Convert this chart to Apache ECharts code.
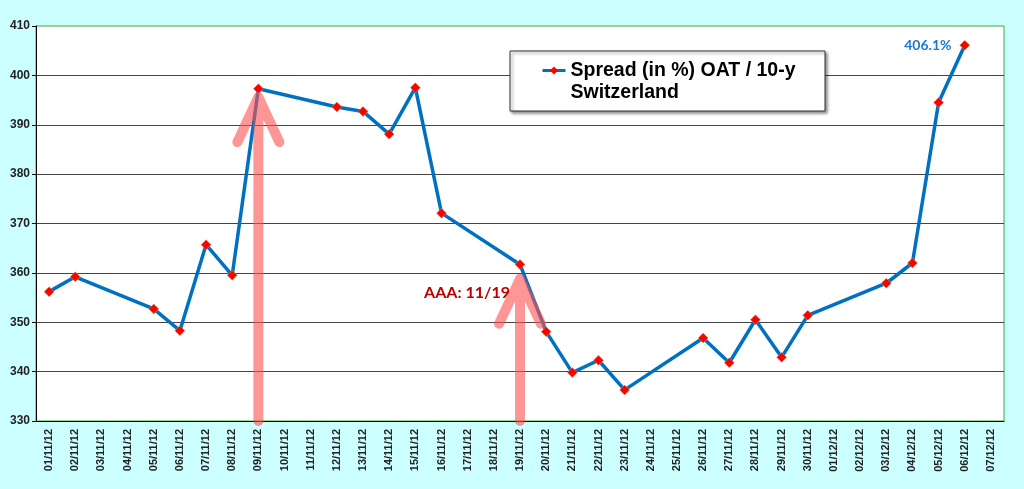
<!DOCTYPE html>
<html>
<head>
<meta charset="utf-8">
<script src="https://cdn.jsdelivr.net/npm/echarts@6/dist/echarts.min.js"></script>
<style>
  html, body { margin: 0; padding: 0; background: #ccffff; }
  #chart { width: 1024px; height: 489px; }
</style>
</head>
<body>
<div id="chart"></div>
<script>
// categories: every calendar day, weekends have no quote
var dates = ['01/11/12','02/11/12','03/11/12','04/11/12','05/11/12','06/11/12','07/11/12','08/11/12',
  '09/11/12','10/11/12','11/11/12','12/11/12','13/11/12','14/11/12','15/11/12','16/11/12','17/11/12',
  '18/11/12','19/11/12','20/11/12','21/11/12','22/11/12','23/11/12','24/11/12','25/11/12','26/11/12',
  '27/11/12','28/11/12','29/11/12','30/11/12','01/12/12','02/12/12','03/12/12','04/12/12','05/12/12',
  '06/12/12','07/12/12']
var spread = [356.2, 359.2, null, null, 352.7, 348.3, 365.7, 359.5,
  397.3, null, null, 393.6, 392.7, 388.1, 397.5, 372.1, null,
  null, 361.7, 348.1, 339.8, 342.3, 336.3, null, null, 346.8,
  341.8, 350.5, 342.9, 351.4, null, null, 357.9, 362.0, 394.5,
  406.1, null]
var seriesName = 'Spread (in %) OAT / 10-y Switzerland'
var legendLines = ['Spread (in %) OAT / 10-y', 'Switzerland']
var lastLabel = '406.1%'

// annotation arrows (date, value of the arrow tip)
var arrowDates = ['09/11/12', '19/11/12']
var arrowTips = [395.6, 358.8]
var noteText = 'AAA: 11/19'
var noteDate = '19/11/12'
var noteValue = 356

var chart = echarts.init(document.getElementById('chart'))

var lastIdx = 35
var data = spread.map(function(v, i){
  if(i == lastIdx){
    return {
      value: v,
      label: {
        show: true,
        position: 'left',
        distance: 8,
        formatter: lastLabel,
        color: '#1a7ad0',
        fontFamily: 'Lato',
        fontWeight: 'bold',
        fontSize: 14
      }
    }
  }
  return v
})

var option = {
  backgroundColor: '#ccffff',
  animation: false,
  grid: {
    left: 36, right: 20, top: 26, bottom: 68,
    show: true,
    backgroundColor: '#ffffff',
    borderColor: '#3aaa3a',
    borderWidth: 1
  },
  legend: {
    left: 541,
    top: 39,
    padding: 0,
    itemWidth: 23,
    itemHeight: 10,
    data: [seriesName],
    itemStyle: { color: '#ff0000', borderWidth: 0 },
    lineStyle: { color: '#0070c0', width: 3 },
    formatter: function(name){
      // empty first line keeps the icon level with the first text line
      return '{e|\u00a0}\n{t|' + legendLines[0] + '}\n{t|' + legendLines[1] + '}'
    },
    textStyle: {
      rich: {
        e: { fontSize: 19, lineHeight: 22 },
        t: {
          fontFamily: 'Liberation Sans',
          fontWeight: 'bold',
          fontSize: 19.5,
          color: '#000',
          lineHeight: 22
        }
      }
    }
  },
  xAxis: {
    type: 'category',
    data: dates,
    boundaryGap: true,
    axisLine: { lineStyle: { color: '#000', width: 1 } },
    axisTick: { length: 4, lineStyle: { color: '#000' } },
    axisLabel: {
      interval: 0,
      rotate: 90,
      margin: 8,
      fontFamily: 'Liberation Sans',
      fontWeight: 'bold',
      fontSize: 11,
      color: '#222'
    },
    splitLine: { show: false }
  },
  yAxis: {
    type: 'value',
    min: 330,
    max: 410,
    interval: 10,
    axisLine: { show: true, lineStyle: { color: '#000', width: 1 } },
    axisTick: { show: true, length: 4, lineStyle: { color: '#000' } },
    axisLabel: {
      margin: 6,
      fontFamily: 'Liberation Sans',
      fontWeight: 'bold',
      fontSize: 12,
      color: '#222'
    },
    splitLine: {
      show: true,
      showMinLine: false,
      showMaxLine: false,
      lineStyle: { color: '#444', width: 1 }
    }
  },
  series: [{
    name: seriesName,
    type: 'line',
    data: data,
    connectNulls: true,
    showAllSymbol: true,
    symbol: 'diamond',
    symbolSize: 10,
    lineStyle: { color: '#0070c0', width: 3.5 },
    itemStyle: { color: '#ff0000', borderColor: '#b8b050', borderWidth: 0.5 },
    z: 3
  }]
}
chart.setOption(option)

// legend frame
var graphics = [{
  type: 'rect',
  shape: { x: 510, y: 51, width: 315, height: 60 },
  style: {
    fill: '#fff', stroke: '#333', lineWidth: 1,
    shadowColor: 'rgba(0,0,0,0.45)', shadowBlur: 3, shadowOffsetX: 2, shadowOffsetY: 2
  },
  z: 3
}]

// arrows
var bottomY = chart.convertToPixel({ yAxisIndex: 0 }, 330)
for(var i = 0; i < arrowDates.length; i++){
  var p = chart.convertToPixel({ xAxisIndex: 0, yAxisIndex: 0 }, [arrowDates[i], arrowTips[i]])
  graphics.push({
    type: 'polyline',
    shape: { points: [[p[0]-21, p[1]+45], [p[0], p[1]], [p[0]+21, p[1]+45], [p[0], p[1]], [p[0], bottomY]] },
    style: { stroke: 'rgba(255,80,80,0.6)', lineWidth: 10, lineCap: 'round', lineJoin: 'round', fill: null },
    z: 10
  })
}

var np = chart.convertToPixel({ xAxisIndex: 0, yAxisIndex: 0 }, [noteDate, noteValue])
graphics.push({
  type: 'text',
  x: np[0] - 10,
  y: np[1],
  style: {
    text: noteText,
    fill: '#c00000',
    font: 'bold 16px Lato',
    align: 'right',
    verticalAlign: 'middle'
  },
  z: 11
})

chart.setOption({ graphic: graphics })
</script>
</body>
</html>
